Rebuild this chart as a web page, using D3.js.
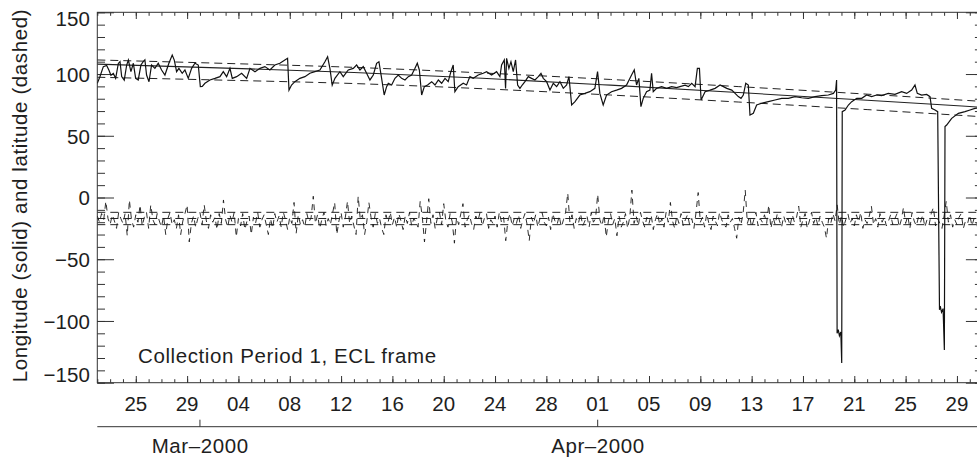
<!DOCTYPE html>
<html><head><meta charset="utf-8">
<script src="https://cdn.jsdelivr.net/npm/d3@7"></script>
<style>
html,body{margin:0;padding:0;background:#fff;}
svg{display:block;}
text{font-family:"Liberation Sans",Arial,Helvetica,sans-serif;fill:#1e1e1e;}
</style></head>
<body>
<svg id="c" width="977" height="459"></svg>
<script>
// ---------------- data (days after 2000-02-22 00:00 UT) ----------------
const startDate = Date.UTC(2000, 1, 22);
const endDate = Date.UTC(2000, 4, 1);

const lonT = [0.00,0.21,0.47,0.73,0.91,1.06,1.25,1.43,1.64,1.77,1.90,2.10,2.29,2.42,2.62,2.81,2.99,3.19,3.40,3.58,3.71,3.84,4.03,4.23,4.49,4.75,5.01,5.27,5.58,5.84,6.00,6.18,6.36,6.62,6.83,7.09,7.35,7.61,7.87,8.03,8.18,8.39,8.78,9.17,9.56,9.82,10.08,10.34,10.52,10.86,11.25,11.64,11.90,12.29,12.68,13.06,13.45,13.84,14.23,14.62,14.83,14.94,15.14,15.40,15.79,16.18,16.57,16.96,17.35,17.74,17.95,18.13,18.31,18.52,18.91,19.17,19.56,19.95,20.21,20.47,20.73,20.99,21.25,21.51,21.77,21.95,22.16,22.36,22.55,22.68,22.94,23.20,23.46,23.72,23.98,24.24,24.50,24.76,24.94,25.10,25.28,25.49,25.74,26.06,26.32,26.58,26.84,27.10,27.35,27.56,27.74,27.87,28.13,28.52,28.78,29.04,29.30,29.69,30.08,30.34,30.73,31.12,31.38,31.51,31.72,31.82,31.90,32.08,32.24,32.42,32.60,32.76,32.94,33.12,33.33,33.59,33.85,34.11,34.37,34.58,34.76,35.02,35.28,35.54,35.80,36.06,36.32,36.58,36.76,36.97,37.23,37.61,38.00,38.39,38.78,38.99,39.17,39.43,39.69,40.08,40.47,40.86,41.25,41.64,41.85,42.03,42.21,42.37,42.55,42.81,43.07,43.20,43.33,43.59,43.98,44.37,44.76,45.15,45.41,45.81,46.07,46.33,46.59,46.77,46.93,47.06,47.37,47.76,48.15,48.54,48.80,49.06,49.45,49.71,49.96,50.17,50.35,50.54,50.74,50.87,51.13,51.39,51.78,52.30,52.82,53.34,53.86,54.38,54.90,55.42,55.94,56.46,56.98,57.37,57.55,57.62,57.66,57.75,57.84,57.95,58.02,58.06,58.28,58.54,58.80,59.19,59.58,59.96,60.35,60.74,61.13,61.65,62.17,62.69,63.08,63.47,63.73,63.91,64.25,64.64,64.90,65.03,65.29,65.50,65.64,65.70,65.80,65.92,66.02,66.07,66.20,66.59,67.11,67.63,68.02,68.40,68.95];
const lonV = [92.5,98,106,107,103,99,100.5,96.5,108.6,110,98,95,107.3,111.3,101.9,108.7,96.5,95.2,107.3,110,111.4,99.2,93.8,107.3,104.6,108.7,103.3,99.2,108.7,115.4,111.3,101.9,104.6,100.6,103.3,96.5,104.6,108.7,107.3,89.8,90,92.5,95.2,96.5,97.9,101.9,97.9,104.6,96.5,97.9,100.6,96.5,104.6,101.9,104.6,106,103.3,107.3,108.7,111.4,112.7,87,91.1,93.8,96.5,97.9,100.6,101.9,103.3,110,114,104.6,91,96.5,101.9,97.9,103.3,104.6,107.3,103.3,106,100.6,95.2,99.2,108.7,110,96.5,83,89.8,92.5,91.1,96.5,99.2,96.5,95.2,97.9,99.2,104.6,108.7,103.3,83,89.8,91.1,93.8,91.1,95.2,92.5,96.5,93.8,101.9,107.3,85.7,89.8,92.5,91.1,97.9,96.5,99.2,100.6,101.9,99.2,101.9,97.9,107.3,111.4,88.4,112.7,104.6,110,101.9,111.4,91.1,88.4,91.1,93.8,97.9,96.5,95.2,97.9,100.6,96.5,93.8,87,92.5,89.8,93.8,88.4,91.1,97.9,74.9,77.6,83,84.3,85.7,88.4,101.9,84.3,74.9,83,85.7,87,88.4,91.1,99.2,103.3,91.1,96.5,73.6,80.3,85.7,87,100.6,85.7,88.4,89.8,88.4,89.8,89,89.8,91,89.8,92.5,89.8,104.6,104.6,79,85.7,87,88.4,91.1,89.8,88.4,87,84.3,81.7,80.3,83,92.5,91.1,66.8,68.2,74.9,76.3,77.6,79,80.3,80.3,81.7,80.8,80.3,81.7,82.5,83,84.3,87,95.2,-110,-107,-112,-109,-134,69.5,70.9,74.9,77.6,80.3,80.3,83,81.7,83,82.5,84.3,83.5,85.7,84.3,87,91.1,84.3,83,83.5,81.7,72.2,70.9,69.5,-91,-88,-93,-90,-123.5,57.4,58.7,64.1,68.2,69.5,70.9,72.2,73];

// latitude, six readings per day
const latStep = 1 / 6;
const latV = [
-15,-20,-13,-18,-3,-17,  -22,-14,-19,-25,-12,-17,  -21,-13,-31,-2,-18,-24,  -14,-20,-6,-23,-16,-12,
-25,-6,-18,-22,-13,-19,  -24,-15,-30,-17,-12,-22,  -18,-25,-14,-30,-19,-13,  -6,-36,-21,-15,-24,-17,
-12,-22,-6,-19,-25,-14,  -20,-16,-26,-13,-21,-2,   -18,-24,-14,-20,-12,-32,  -17,-23,-13,-26,-19,-15,
-30,-16,-21,-12,-24,-18, -14,-22,-30,-17,-25,-13,  -20,-15,-24,-12,-18,-26,  -16,-21,-4,-29,-14,-22,
-18,-24,-13,-20,-16,1,   -21,-14,-25,-18,-12,-23,  -17,-22,-13,-4,-30,-19,   -12,-24,-16,-3,-21,-15,
-23,-30,1,-18,-14,-30,   -20,-4,-16,-24,-13,-21,   -17,-25,-30,-14,-20,-12,  -22,-16,-24,-13,-19,-26,
-15,-21,-12,-23,-17,-20, -24,-3,-16,-36,-19,-1,    -21,-14,-25,-17,-12,-22,  -5,-19,-24,-13,-20,-37,
-16,-22,-13,-5,-24,-18,  -14,-21,-26,-15,-19,-12,  -23,-17,-13,-25,-18,-21,  -15,-24,-12,-20,-16,-35,
-19,-13,-23,-17,-21,-14, -25,-18,-13,-22,-35,-16,  -21,-14,-24,-17,-12,-20,  -23,-16,-26,-13,-19,-22,
-15,-24,-18,-12,3.6,-20, -14,-25,-17,-21,-13,-23,  -19,-15,-24,-12,-20,-17,  2.6,-18,-23,-14,-32,-19,
-13,-22,-17,-31,-15,-24, -20,-13,-25,-16,6,-21,    -15,-23,-12,-19,-24,-16,  -21,-14,-26,-18,-13,-22,
-17,-24,-12,-20,-4,-19,  -25,-15,-21,-13,-23,-18,  -14,-22,-17,-25,-12,4,    -20,-16,-24,-13,-21,-26,
-15,-19,-23,-12,-18,-22, -24,-14,-20,-17,-25,-33,  -16,-22,-13,6,-21,-15,    -24,-18,-12,-23,-17,-20,
-14,-21,-6,-25,-16,-22,  -13,-19,-24,-15,-21,-17,  -23,-14,-20,-16,-7,-24,   -18,-13,-25,-19,-12,-21,
-16,-23,-15,-20,-24,-33, -17,-21,-13,-19,-6,-22,   -15,-24,-18,-13,-21,-17,  -23,-14,-20,-12,-25,-18,
-21,-15,-7,-22,-17,-24,  -13,-20,-16,-23,-19,-14,  -22,-17,-13,-24,-18,-8,   -21,-15,-25,-12,-19,-23,
-16,-20,-14,-24,-18,-22, -13,-8,-23,-17,-21,-25,   -15,-3,-20,-14,-24,-18,   -22,-16,-13,-25,-19,-21,
-14,-23,-17,-20,-26,-16, -20];

// fitted trend of longitude (solid) and its bounds (dashed)
const trendDays = [0, 10, 20, 30, 40, 50, 60, 69];
const trendMid = [108, 104.8, 101.3, 96.6, 91.0, 85.0, 78.8, 73.0];
const trendUp = [111.4, 108.6, 105.4, 100.9, 95.6, 89.8, 83.7, 77.8];
const trendLo = [97.4, 95.0, 92.3, 88.1, 83.0, 77.3, 71.2, 65.4];
// latitude mean and bounds (dashed)
const latLines = [-12, -17, -22];

const yMajor = [-150, -100, -50, 0, 50, 100, 150];
const monthTicks = [{d: Date.UTC(2000, 2, 1), label: "Mar\u20132000"}, {d: Date.UTC(2000, 3, 1), label: "Apr\u20132000"}];
const annotation = "Collection Period 1, ECL frame";
const yTitle = "Longitude (solid) and latitude (dashed)";

// ---------------- layout ----------------
const L = 97.3, R = 982.6, T = 12.3, B = 382.7;
const svg = d3.select("#c");
const dayMs = 86400000;
const toDate = d => new Date(startDate + d * dayMs);

const x = d3.scaleUtc().domain([new Date(startDate), new Date(endDate)]).range([L, R]);
const y = d3.scaleLinear().domain([-150, 150]).range([B, T]);

const axisColor = "#333";
const allDays = d3.utcDay.range(new Date(startDate), new Date(endDate + 1));
const majorDays = allDays.filter(d => Math.round((d - startDate) / dayMs) % 4 === 3);
const yMinor = d3.range(-150, 151, 10);

function styleAxis(g) {
  g.select(".domain").remove();
  g.selectAll("line").attr("stroke", axisColor).attr("stroke-width", 1);
}

// bottom axis ticks
svg.append("g").attr("transform", `translate(0,${B})`)
  .call(d3.axisBottom(x).tickValues(allDays).tickSize(-3.5).tickFormat("")).call(styleAxis);
svg.append("g").attr("transform", `translate(0,${B})`)
  .call(d3.axisBottom(x).tickValues(majorDays).tickSize(-6.7).tickFormat("")).call(styleAxis);
// top axis ticks
svg.append("g").attr("transform", `translate(0,${T})`)
  .call(d3.axisTop(x).tickValues(allDays).tickSize(-3.5).tickFormat("")).call(styleAxis);
svg.append("g").attr("transform", `translate(0,${T})`)
  .call(d3.axisTop(x).tickValues(majorDays).tickSize(-6.7).tickFormat("")).call(styleAxis);
// left axis
svg.append("g").attr("transform", `translate(${L},0)`)
  .call(d3.axisLeft(y).tickValues(yMinor).tickSize(-7.7).tickFormat("")).call(styleAxis);
const yl = svg.append("g").attr("transform", `translate(${L},0)`)
  .call(d3.axisLeft(y).tickValues(yMajor).tickSize(-16.7).tickPadding(7.5).tickFormat(d => d < 0 ? "\u2212" + Math.abs(d) : d))
  .call(styleAxis);
yl.selectAll("text").attr("font-size", 20.5).attr("fill", "#1e1e1e")
  .attr("font-family", '"Liberation Sans",Arial,Helvetica,sans-serif')
  .attr("dy", d => d === 150 ? "0.62em" : d === -150 ? "-0.08em" : "0.36em");
// right axis
svg.append("g").attr("transform", `translate(${R},0)`)
  .call(d3.axisRight(y).tickValues(yMinor).tickSize(-7.7).tickFormat("")).call(styleAxis);
svg.append("g").attr("transform", `translate(${R},0)`)
  .call(d3.axisRight(y).tickValues(yMajor).tickSize(-16.7).tickFormat("")).call(styleAxis);

// frame
svg.append("rect").attr("x", L).attr("y", T).attr("width", R - L).attr("height", B - T)
  .attr("fill", "none").attr("stroke", axisColor).attr("stroke-width", 1);

// day labels
svg.append("g").selectAll("text").data(majorDays).join("text")
  .attr("x", d => x(d)).attr("y", 410.6).attr("text-anchor", "middle").attr("font-size", 20.5)
  .text(d3.utcFormat("%d"));

// month axis
const mg = svg.append("g");
mg.append("line").attr("x1", L).attr("x2", R).attr("y1", 426.7).attr("y2", 426.7)
  .attr("stroke", axisColor).attr("stroke-width", 1);
mg.selectAll("line.t").data(monthTicks).join("line").attr("class", "t")
  .attr("x1", d => x(new Date(d.d))).attr("x2", d => x(new Date(d.d)))
  .attr("y1", 426.7).attr("y2", 419.7).attr("stroke", axisColor);
mg.selectAll("text").data(monthTicks).join("text")
  .attr("x", d => x(new Date(d.d)) + 0.3).attr("y", 453).attr("text-anchor", "middle")
  .attr("font-size", 20.5).attr("letter-spacing", 0.6)
  .text(d => d.label);

// y title
svg.append("text").attr("transform", `translate(26.5,${(T + B) / 2 - 2}) rotate(-90)`)
  .attr("text-anchor", "middle").attr("font-size", 20.5).attr("letter-spacing", 0.6).text(yTitle);

// clip
svg.append("clipPath").attr("id", "clip").append("rect")
  .attr("x", L).attr("y", T).attr("width", R - L).attr("height", B - T);
const plot = svg.append("g").attr("clip-path", "url(#clip)");

const lineGen = d3.line().x(d => x(d[0])).y(d => y(d[1]));
const trendGen = d3.line().x(d => x(d[0])).y(d => y(d[1])).curve(d3.curveMonotoneX);

// latitude reference lines
plot.selectAll("line.lat").data(latLines).join("line").attr("class", "lat")
  .attr("x1", L).attr("x2", R).attr("y1", d => y(d)).attr("y2", d => y(d))
  .attr("stroke", "#222").attr("stroke-width", 1).attr("stroke-dasharray", "8,5");

// longitude trend
const mk = arr => trendDays.map((d, i) => [toDate(d), arr[i]]);
plot.append("path").datum(mk(trendMid)).attr("d", trendGen)
  .attr("fill", "none").attr("stroke", "#222").attr("stroke-width", 1.1);
[trendUp, trendLo].forEach(a => plot.append("path").datum(mk(a)).attr("d", trendGen)
  .attr("fill", "none").attr("stroke", "#222").attr("stroke-width", 1).attr("stroke-dasharray", "8,5"));

// latitude series
const latData = latV.map((v, i) => [toDate(i * latStep), v]);
plot.append("path").datum(latData).attr("d", lineGen)
  .attr("fill", "none").attr("stroke", "#1a1a1a").attr("stroke-width", 0.9).attr("stroke-dasharray", "6,5");

// longitude series
const lonData = lonT.map((t, i) => [toDate(t), lonV[i]]);
plot.append("path").datum(lonData).attr("d", lineGen)
  .attr("fill", "none").attr("stroke", "#111").attr("stroke-width", 1.2).attr("stroke-linejoin", "miter");

// annotation
svg.append("text").attr("x", 138).attr("y", 363).attr("font-size", 20.5).attr("letter-spacing", 0.6).text(annotation);
</script>
</body></html>
